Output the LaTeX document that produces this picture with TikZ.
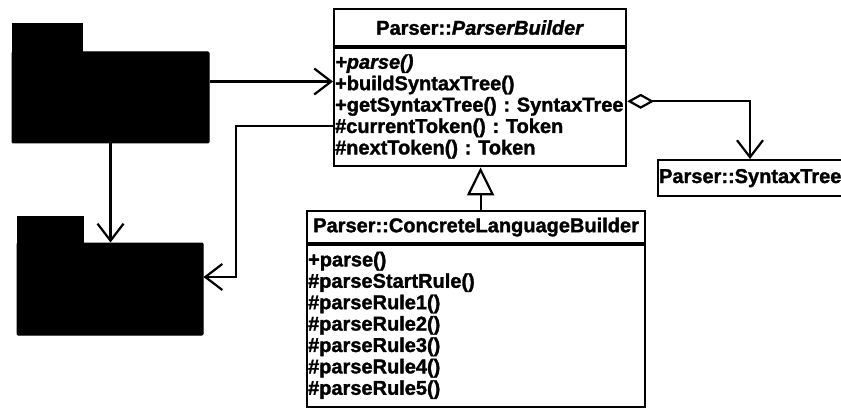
\documentclass[tikz,border=0pt]{standalone}
\usepackage{fontspec}
\setmainfont{Liberation Sans}[BoldFeatures={FakeBold=1.5},BoldItalicFeatures={FakeBold=1.5}]
\usetikzlibrary{arrows.meta,positioning}

\newcommand{\members}[1]
{
  \begin{tabular}{@{}l@{}}
    #1
  \end{tabular}
}

\tikzset{
  umlfont/.style={font=\fontsize{20}{21.4}\selectfont\bfseries\frenchspacing},
  classname/.style={draw, line width=2.2pt, umlfont, inner sep=1pt, anchor=north west},
  classbody/.style={draw, line width=2.2pt, umlfont, inner sep=1pt, anchor=north west, align=left},
  pkgbody/.style={fill=black, draw, line width=1pt, rounded corners=1pt, inner sep=0pt},
  pkgtab/.style={fill=black, draw, line width=1pt, inner sep=0pt, anchor=south west},
  dep/.style={line width=2.2pt, -{Straight Barb[length=17pt,width=26pt,line width=2.2pt]}},
  inherit/.style={line width=2.2pt, -{Triangle[open,length=28pt,width=27pt,line width=2.2pt]}},
  aggr/.style={line width=2.2pt, {Diamond[open,length=27pt,width=15pt,line width=2.2pt]}-{Straight Barb[length=17pt,width=26pt,line width=2.2pt]}}
}

\begin{document}
\begin{tikzpicture}[x=1pt,y=-1pt]
  \useasboundingbox (0,0) rectangle (841,409);

  % packages
  \node[pkgbody, minimum width=197pt, minimum height=91pt] (pkgA) at (110.5,97.5) {};
  \node[pkgtab, minimum width=70pt, minimum height=28pt] (pkgAtab) at ([yshift=-1pt]pkgA.north west) {};
  \node[pkgbody, minimum width=186pt, minimum height=92pt] (pkgB) at (110,289) {};
  \node[pkgtab, minimum width=66pt, minimum height=27pt] (pkgBtab) at ([yshift=-1pt]pkgB.north west) {};

  % classes
  \node[classname, minimum width=292pt, minimum height=37pt] (pb) at (333,8)
    {Parser::\textit{ParserBuilder}};
  \node[classbody, text width=290pt, minimum height=118pt] (pbattr) at (pb.south west)
  {
    \members
    {
      \textit{+parse()}                 \\
      +buildSyntaxTree()                \\
      +getSyntaxTree() : SyntaxTree     \\
      \#currentToken() : Token          \\
      \#nextToken() : Token
    }
  };

  \node[classname, minimum width=338pt, minimum height=32pt] (cl) at (306,210)
    {Parser::ConcreteLanguageBuilder};
  \node[classbody, text width=336pt, minimum height=162pt] (clattr) at (cl.south west)
  {
    \members
    {
      +parse()          \\
      \#parseStartRule() \\
      \#parseRule1()     \\
      \#parseRule2()     \\
      \#parseRule3()     \\
      \#parseRule4()     \\
      \#parseRule5()
    }
  };

  \node[classbody, text width=198pt, minimum height=36pt] (st) at (657,159)
    {Parser::SyntaxTree};

  % connectors
  \draw[dep] (pkgA.south) -- (pkgA.south |- pkgB.north);
  \draw[dep] ([yshift=-30pt]pkgA.north east) -- ([yshift=-30pt]pkgA.north east -| pbattr.west);
  \draw[dep] ([yshift=-19pt]pbattr.west) -- ++(-97,0) |- ([yshift=12pt]pkgB.east);
  \draw[inherit] ([xshift=4.5pt]cl.north) -- ([xshift=4.5pt]cl.north |- pbattr.south);
  \draw[aggr] ([yshift=6pt]pbattr.east) -| ([xshift=93pt]st.north west);

\end{tikzpicture}
\end{document}
